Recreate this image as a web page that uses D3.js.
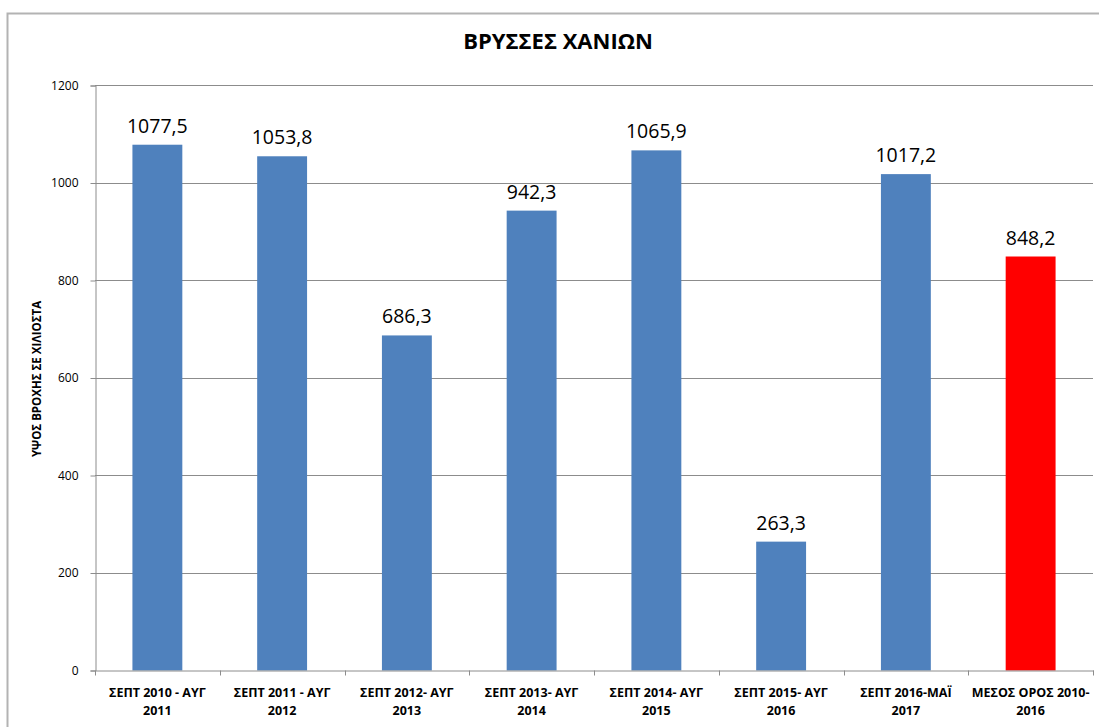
<!DOCTYPE html>
<html>
<head>
<meta charset="utf-8">
<script src="https://cdn.jsdelivr.net/npm/d3@7"></script>
<style>
  html, body { margin: 0; padding: 0; background: #fff; }
  svg { display: block; }
</style>
</head>
<body>
<svg id="chart"></svg>
<script>
// rainfall data (mm) – Βρύσσες Χανίων
const categories = [
  ['ΣΕΠΤ 2010 - ΑΥΓ', '2011'],
  ['ΣΕΠΤ 2011 - ΑΥΓ', '2012'],
  ['ΣΕΠΤ 2012- ΑΥΓ', '2013'],
  ['ΣΕΠΤ 2013- ΑΥΓ', '2014'],
  ['ΣΕΠΤ 2014- ΑΥΓ', '2015'],
  ['ΣΕΠΤ 2015- ΑΥΓ', '2016'],
  ['ΣΕΠΤ 2016-ΜΑΪ', '2017'],
  ['ΜΕΣΟΣ ΟΡΟΣ 2010-', '2016'],
];
const values = [1077.5, 1053.8, 686.3, 942.3, 1065.9, 263.3, 1017.2, 848.2];
const yTicks = [0, 200, 400, 600, 800, 1000, 1200];
const highlight = 7; // average bar drawn in red

const W = 1099, H = 727;
const m = { left: 95, right: 6, top: 85, bottom: 57 };

const svg = d3.select('#chart').attr('width', W).attr('height', H);

// chart frame
svg.append('path')
  .attr('d', `M7.5,${H + 2}V13.5H${W + 2}`)
  .attr('fill', 'none').attr('stroke', '#b3b3b3').attr('stroke-width', 2);

const x = d3.scaleBand().domain(d3.range(values.length))
  .range([m.left, W - m.right]).padding(0);
const y = d3.scaleLinear().domain([0, 1200]).range([H - m.bottom, m.top]);

// gridlines
svg.append('g').selectAll('line').data(yTicks.filter(d => d > 0)).enter().append('line')
  .attr('x1', m.left).attr('x2', W - m.right)
  .attr('y1', d => Math.round(y(d)) + 0.5).attr('y2', d => Math.round(y(d)) + 0.5)
  .attr('stroke', '#8c8c8c').attr('stroke-width', 1);

// y axis
const yAxis = svg.append('g')
  .attr('transform', `translate(${m.left + 0.5},0.5)`)
  .call(d3.axisLeft(y).tickValues(yTicks).tickSize(5).tickPadding(12).tickFormat(d3.format('d')));
yAxis.select('.domain').attr('stroke', '#8c8c8c');
yAxis.selectAll('.tick line').attr('stroke', '#8c8c8c');
yAxis.selectAll('.tick text')
  .attr('font-family', 'Open Sans, sans-serif').attr('font-size', '12px').attr('fill', '#000');

// bars
const bw = x.bandwidth() * 0.4;
svg.append('g').selectAll('rect').data(values).enter().append('rect')
  .attr('x', (d, i) => x(i) + (x.bandwidth() - bw) / 2)
  .attr('y', d => y(d))
  .attr('width', bw)
  .attr('height', d => y(0) - y(d) + 0.5)
  .attr('fill', (d, i) => i === highlight ? '#ff0000' : '#4f81bd');

// x axis
const xAxis = svg.append('g')
  .attr('transform', `translate(0.5,${Math.round(y(0)) + 0.5})`)
  .call(d3.axisBottom(x).tickSize(0).tickFormat(''));
xAxis.select('.domain').attr('stroke', '#8c8c8c');
// category separators
xAxis.selectAll('line.sep').data(d3.range(values.length + 1)).enter().append('line')
  .attr('class', 'sep')
  .attr('x1', i => Math.round(m.left + i * x.bandwidth())).attr('x2', i => Math.round(m.left + i * x.bandwidth()))
  .attr('y1', 0).attr('y2', 5).attr('stroke', '#8c8c8c');

// category labels
const cl = svg.append('g');
categories.forEach((c, i) => {
  const t = cl.append('text')
    .attr('x', x(i) + x.bandwidth() / 2).attr('y', 697)
    .attr('text-anchor', 'middle')
    .attr('font-family', 'Open Sans, sans-serif').attr('font-weight', 'bold')
    .attr('font-size', '12.5px').attr('fill', '#000');
  c.forEach((line, k) => t.append('tspan')
    .attr('x', x(i) + x.bandwidth() / 2).attr('dy', k === 0 ? 0 : 18).text(line));
});

// value labels
svg.append('g').selectAll('text').data(values).enter().append('text')
  .attr('x', (d, i) => x(i) + x.bandwidth() / 2)
  .attr('y', d => y(d) - 12)
  .attr('text-anchor', 'middle')
  .attr('font-family', 'Open Sans, sans-serif').attr('font-size', '19.5px').attr('fill', '#000')
  .text(d => d3.format('.1f')(d).replace('.', ','));

// title
svg.append('text')
  .attr('x', 558).attr('y', 49).attr('text-anchor', 'middle')
  .attr('font-family', 'Open Sans, sans-serif').attr('font-weight', 'bold')
  .attr('font-size', '22px').attr('fill', '#000')
  .text('ΒΡΥΣΣΕΣ ΧΑΝΙΩΝ');

// y axis title
svg.append('text')
  .attr('transform', 'translate(41,379) rotate(-90)')
  .attr('text-anchor', 'middle')
  .attr('font-family', 'Open Sans, sans-serif').attr('font-weight', 'bold')
  .attr('font-size', '11.5px').attr('fill', '#000')
  .text('ΥΨΟΣ ΒΡΟΧΗΣ  ΣΕ ΧΙΛΙΟΣΤΑ');
</script>
</body>
</html>
